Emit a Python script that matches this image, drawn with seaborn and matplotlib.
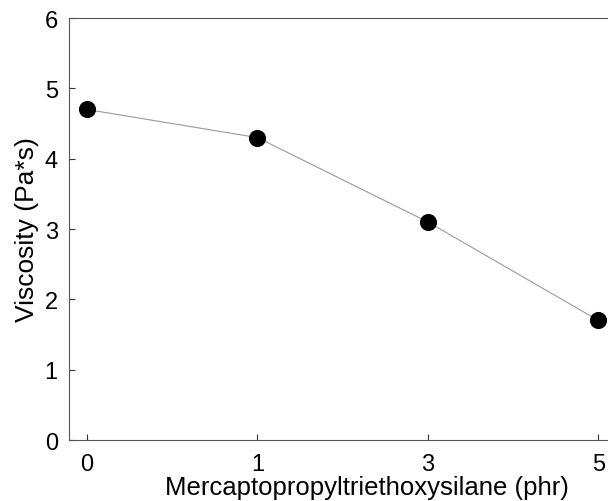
import matplotlib
matplotlib.use("Agg")
import matplotlib.pyplot as plt
import seaborn as sns
import pandas as pd

silane_phr = ["0", "1", "3", "5"]
viscosity = [4.70, 4.30, 3.10, 1.70]
y_ticks = [0, 1, 2, 3, 4, 5, 6]

sns.set_theme(style="ticks")
plt.rcParams['font.family'] = ['Liberation Sans', 'DejaVu Sans']

df = pd.DataFrame({"phr": silane_phr, "visc": viscosity})

fig = plt.figure(figsize=(6.12, 5.02), dpi=100)
ax = fig.add_axes([0.1127, 0.1215, 0.879, 0.8405])

sns.lineplot(data=df, x="phr", y="visc", ax=ax, color="#999999", linewidth=0.8, sort=False)
sns.scatterplot(data=df, x="phr", y="visc", ax=ax, color="black", s=130, edgecolor="black", zorder=3)

ax.set_xlim(-0.106, 3.05)
ax.set_ylim(0, 6)
ax.set_yticks(y_ticks)
ax.set_xlabel("Mercaptopropyltriethoxysilane (phr)", fontsize=18.5, color="black")
ax.xaxis.set_label_coords(0.554, -0.083)
ax.set_ylabel("Viscosity (Pa*s)", fontsize=19, color="black", labelpad=4)
ax.tick_params(axis="both", direction="in", length=4, width=0.8, colors="#333333", labelcolor="black", labelsize=17, pad=8)
ax.tick_params(axis="x", pad=9)
for side in ["left", "bottom", "top"]:
    ax.spines[side].set_visible(True)
    ax.spines[side].set_color("#555555")
    ax.spines[side].set_linewidth(0.8)
ax.spines["right"].set_visible(False)

fig.savefig("out.png", dpi=100)
